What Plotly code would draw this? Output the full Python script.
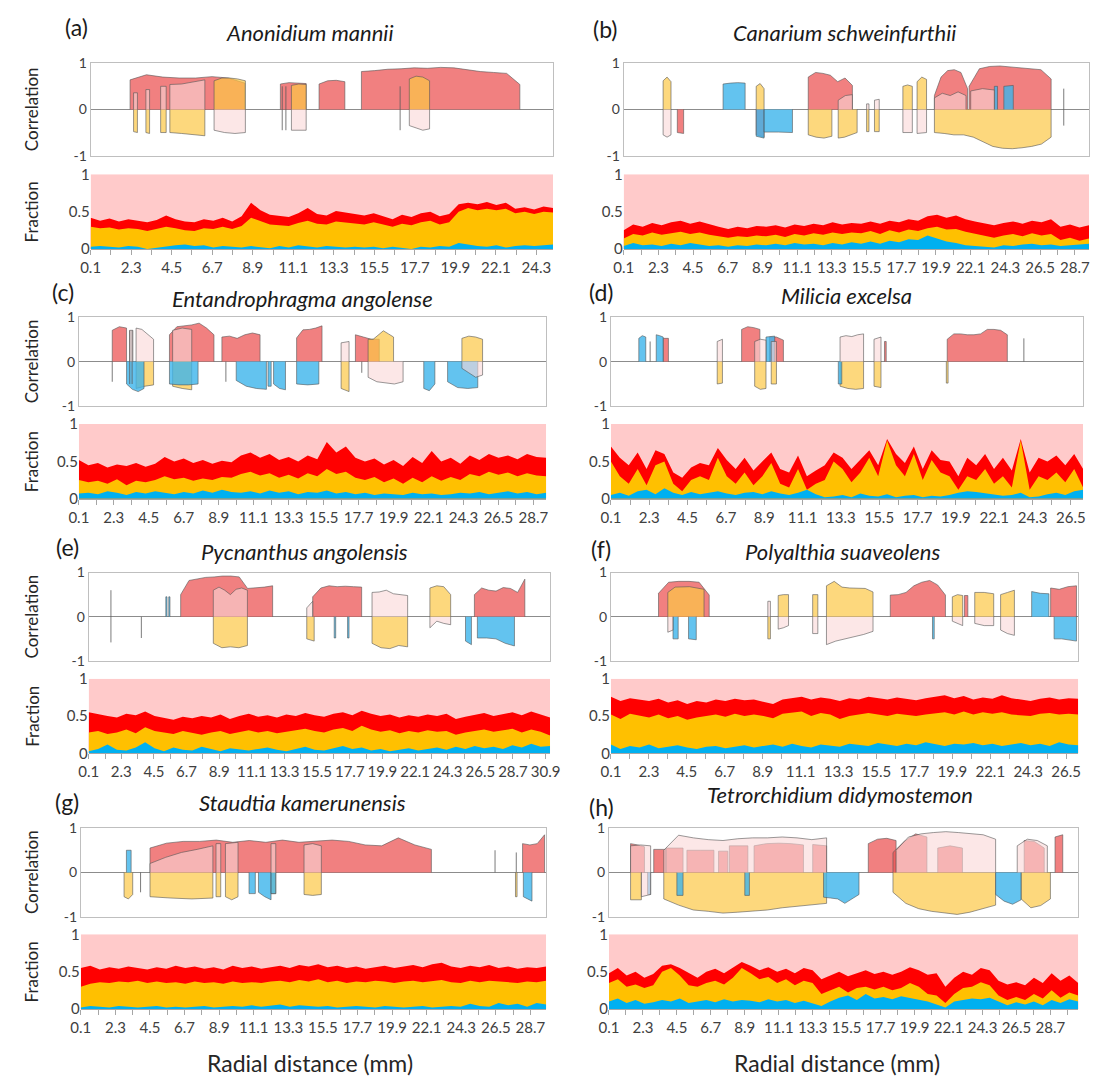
import numpy as np
import plotly.graph_objects as go

W, H = 1107, 1086          # target picture size
PAGE_MARGIN = 8            # default body margin of the html page
FIG_W, FIG_H = W - 2 * PAGE_MARGIN, H - 2 * PAGE_MARGIN
FONT = "Lato, 'Open Sans', sans-serif"

# ---------------- data ----------------
PANEL_KEYS = ["a", "b", "c", "d", "e", "f", "g", "h"]
PANEL_LABELS = ["(a)", "(b)", "(c)", "(d)", "(e)", "(f)", "(g)", "(h)"]
SPECIES = ["Anonidium mannii", "Canarium schweinfurthii", "Entandrophragma angolense",
           "Milicia excelsa", "Pycnanthus angolensis", "Polyalthia suaveolens",
           "Staudtia kamerunensis", "Tetrorchidium didymostemon"]
X_END = [25.2, 29.6, 29.5, 27.2, 31.2, 27.2, 29.7, 30.5]   # last radial distance (mm)
X_START = 0.1
TICK_STEP = 1.1

# Fraction panels: cumulative tops (blue, blue+gold, blue+gold+red)
BLUE_A = [0.03,0.04,0.03,0.02,0.04,0.03,0.00,0.02,0.04,0.05,0.06,0.04,0.05,0.02,0.04,0.03,0.02,0.04,0.03,0.01,0.04,0.02,0.05,0.03,0.02,0.04,0.03,0.02,0.03,0.02,0.03,0.01,0.03,0.02,0.00,0.03,0.02,0.04,0.03,0.08,0.06,0.04,0.03,0.05,0.02,0.04,0.05,0.04,0.05,0.06]
GOLD_A = [0.30,0.28,0.29,0.26,0.28,0.27,0.24,0.27,0.30,0.28,0.25,0.24,0.28,0.27,0.30,0.27,0.31,0.42,0.38,0.33,0.32,0.31,0.35,0.38,0.34,0.33,0.37,0.36,0.35,0.33,0.36,0.33,0.30,0.34,0.32,0.36,0.38,0.33,0.36,0.50,0.55,0.52,0.54,0.52,0.54,0.48,0.50,0.47,0.50,0.49]
RED_A = [0.42,0.38,0.41,0.37,0.40,0.38,0.36,0.39,0.45,0.40,0.37,0.36,0.40,0.38,0.42,0.37,0.44,0.62,0.52,0.46,0.44,0.43,0.48,0.55,0.47,0.45,0.51,0.49,0.47,0.45,0.48,0.44,0.40,0.46,0.43,0.48,0.50,0.44,0.47,0.60,0.62,0.60,0.63,0.59,0.62,0.54,0.56,0.53,0.57,0.55]

BLUE_B = [0.04,0.08,0.05,0.06,0.04,0.07,0.05,0.08,0.06,0.04,0.05,0.03,0.05,0.04,0.06,0.05,0.07,0.05,0.08,0.06,0.07,0.05,0.08,0.06,0.09,0.07,0.10,0.07,0.11,0.09,0.13,0.12,0.18,0.14,0.10,0.08,0.05,0.04,0.03,0.02,0.05,0.04,0.06,0.07,0.05,0.06,0.04,0.05,0.06,0.07]
GOLD_B = [0.14,0.20,0.18,0.22,0.19,0.21,0.23,0.20,0.22,0.19,0.17,0.15,0.17,0.16,0.18,0.17,0.19,0.16,0.20,0.18,0.21,0.19,0.22,0.20,0.22,0.21,0.24,0.20,0.25,0.22,0.26,0.24,0.28,0.30,0.26,0.27,0.23,0.20,0.17,0.15,0.18,0.20,0.17,0.21,0.18,0.20,0.12,0.15,0.11,0.14]
RED_B = [0.25,0.33,0.30,0.35,0.32,0.36,0.38,0.34,0.37,0.33,0.30,0.27,0.30,0.28,0.31,0.30,0.32,0.29,0.33,0.31,0.34,0.32,0.36,0.33,0.35,0.34,0.37,0.34,0.38,0.36,0.40,0.38,0.44,0.46,0.42,0.45,0.40,0.37,0.34,0.32,0.35,0.37,0.34,0.38,0.36,0.40,0.30,0.33,0.29,0.32]

BLUE_C = [0.07,0.08,0.06,0.10,0.08,0.05,0.09,0.07,0.10,0.08,0.06,0.09,0.07,0.11,0.08,0.12,0.09,0.08,0.10,0.07,0.11,0.08,0.10,0.06,0.09,0.08,0.11,0.07,0.09,0.06,0.08,0.05,0.07,0.06,0.05,0.08,0.06,0.07,0.05,0.06,0.08,0.07,0.09,0.06,0.08,0.10,0.07,0.09,0.06,0.08]
GOLD_C = [0.25,0.22,0.24,0.20,0.26,0.18,0.24,0.22,0.25,0.30,0.26,0.28,0.24,0.27,0.25,0.29,0.28,0.33,0.36,0.31,0.34,0.28,0.32,0.27,0.34,0.30,0.40,0.33,0.36,0.28,0.25,0.29,0.22,0.27,0.20,0.28,0.22,0.30,0.24,0.29,0.25,0.33,0.30,0.36,0.32,0.35,0.30,0.34,0.31,0.30]
RED_C = [0.52,0.45,0.48,0.42,0.46,0.44,0.48,0.43,0.47,0.56,0.50,0.54,0.48,0.52,0.47,0.51,0.49,0.58,0.62,0.55,0.60,0.52,0.56,0.50,0.58,0.53,0.76,0.62,0.70,0.55,0.50,0.54,0.46,0.52,0.44,0.56,0.48,0.64,0.50,0.55,0.47,0.58,0.52,0.60,0.55,0.58,0.53,0.60,0.56,0.55]

BLUE_D = [0.05,0.08,0.04,0.10,0.12,0.06,0.14,0.08,0.05,0.09,0.06,0.08,0.10,0.07,0.05,0.08,0.09,0.06,0.10,0.07,0.05,0.08,0.12,0.06,0.02,0.03,0.05,0.02,0.07,0.04,0.03,0.06,0.02,0.04,0.05,0.02,0.04,0.03,0.05,0.08,0.10,0.09,0.07,0.06,0.04,0.05,0.08,0.02,0.03,0.06,0.08,0.05,0.10,0.12]
GOLD_D = [0.50,0.30,0.20,0.40,0.18,0.45,0.50,0.20,0.10,0.25,0.30,0.25,0.55,0.30,0.20,0.35,0.18,0.30,0.48,0.20,0.15,0.40,0.12,0.20,0.25,0.50,0.40,0.22,0.35,0.55,0.30,0.78,0.45,0.30,0.60,0.25,0.52,0.35,0.30,0.12,0.30,0.25,0.40,0.20,0.30,0.15,0.78,0.12,0.30,0.25,0.35,0.22,0.40,0.15]
RED_D = [0.70,0.55,0.45,0.62,0.40,0.65,0.60,0.35,0.28,0.42,0.48,0.45,0.68,0.52,0.40,0.55,0.38,0.50,0.62,0.40,0.35,0.58,0.30,0.38,0.45,0.62,0.55,0.40,0.52,0.65,0.45,0.80,0.60,0.48,0.70,0.40,0.65,0.52,0.50,0.30,0.55,0.45,0.60,0.40,0.55,0.38,0.80,0.35,0.55,0.50,0.58,0.45,0.60,0.40]

BLUE_E = [0.03,0.06,0.12,0.05,0.04,0.08,0.15,0.07,0.03,0.08,0.05,0.04,0.09,0.06,0.03,0.07,0.05,0.04,0.06,0.08,0.05,0.03,0.06,0.09,0.05,0.04,0.07,0.10,0.06,0.08,0.04,0.06,0.03,0.05,0.07,0.04,0.06,0.08,0.05,0.09,0.06,0.10,0.07,0.09,0.06,0.11,0.08,0.13,0.09,0.10]
GOLD_E = [0.28,0.30,0.26,0.28,0.32,0.27,0.35,0.30,0.28,0.26,0.30,0.27,0.25,0.28,0.30,0.26,0.29,0.31,0.28,0.30,0.27,0.29,0.31,0.33,0.30,0.28,0.32,0.34,0.30,0.37,0.32,0.29,0.31,0.27,0.30,0.28,0.31,0.29,0.30,0.25,0.28,0.30,0.32,0.29,0.31,0.33,0.28,0.32,0.29,0.24]
RED_E = [0.55,0.52,0.50,0.48,0.53,0.51,0.56,0.50,0.47,0.45,0.49,0.47,0.50,0.48,0.52,0.46,0.50,0.53,0.49,0.51,0.48,0.52,0.50,0.54,0.51,0.49,0.53,0.55,0.51,0.57,0.53,0.50,0.52,0.48,0.51,0.49,0.52,0.50,0.53,0.46,0.49,0.51,0.54,0.50,0.52,0.55,0.51,0.56,0.52,0.48]

BLUE_F = [0.12,0.06,0.10,0.08,0.12,0.07,0.09,0.11,0.08,0.06,0.09,0.10,0.07,0.09,0.11,0.08,0.10,0.12,0.09,0.13,0.10,0.08,0.12,0.10,0.09,0.13,0.11,0.10,0.14,0.12,0.10,0.13,0.11,0.15,0.12,0.10,0.13,0.12,0.14,0.11,0.13,0.10,0.12,0.14,0.11,0.13,0.10,0.15,0.12,0.11]
GOLD_F = [0.52,0.46,0.53,0.50,0.48,0.52,0.47,0.50,0.45,0.48,0.50,0.52,0.49,0.53,0.50,0.52,0.50,0.47,0.53,0.55,0.56,0.50,0.54,0.52,0.46,0.50,0.52,0.54,0.52,0.50,0.53,0.51,0.50,0.52,0.54,0.55,0.52,0.56,0.52,0.55,0.53,0.55,0.52,0.51,0.50,0.53,0.54,0.52,0.53,0.52]
RED_F = [0.76,0.70,0.74,0.72,0.70,0.73,0.68,0.71,0.66,0.70,0.68,0.72,0.70,0.73,0.71,0.72,0.69,0.66,0.72,0.74,0.76,0.72,0.75,0.73,0.70,0.74,0.72,0.76,0.74,0.72,0.75,0.73,0.71,0.74,0.76,0.78,0.74,0.77,0.72,0.75,0.73,0.78,0.74,0.72,0.70,0.73,0.75,0.72,0.74,0.73]

BLUE_G = [0.02,0.04,0.03,0.02,0.04,0.03,0.02,0.03,0.04,0.02,0.03,0.02,0.03,0.04,0.02,0.03,0.04,0.03,0.05,0.03,0.04,0.06,0.03,0.05,0.04,0.03,0.04,0.02,0.03,0.04,0.03,0.02,0.04,0.03,0.02,0.03,0.04,0.02,0.03,0.04,0.03,0.07,0.04,0.03,0.08,0.05,0.07,0.03,0.08,0.06]
GOLD_G = [0.30,0.34,0.36,0.35,0.37,0.36,0.38,0.35,0.37,0.35,0.36,0.34,0.37,0.35,0.36,0.34,0.37,0.35,0.36,0.35,0.37,0.38,0.36,0.39,0.37,0.40,0.36,0.38,0.35,0.37,0.36,0.38,0.37,0.35,0.37,0.38,0.36,0.37,0.39,0.36,0.35,0.38,0.36,0.38,0.37,0.36,0.35,0.37,0.36,0.38]
RED_G = [0.55,0.58,0.53,0.56,0.54,0.57,0.55,0.53,0.56,0.54,0.58,0.55,0.57,0.54,0.56,0.53,0.58,0.55,0.57,0.54,0.56,0.58,0.55,0.59,0.57,0.60,0.56,0.58,0.55,0.57,0.54,0.56,0.58,0.55,0.57,0.59,0.56,0.60,0.62,0.57,0.55,0.58,0.56,0.59,0.55,0.57,0.54,0.56,0.55,0.57]

BLUE_H = [0.10,0.14,0.08,0.12,0.07,0.09,0.12,0.10,0.14,0.08,0.10,0.12,0.09,0.13,0.10,0.12,0.11,0.09,0.13,0.10,0.12,0.08,0.11,0.07,0.04,0.10,0.15,0.18,0.12,0.20,0.14,0.16,0.13,0.17,0.15,0.12,0.10,0.06,0.02,0.10,0.12,0.14,0.13,0.15,0.10,0.05,0.09,0.06,0.10,0.05,0.12,0.08,0.13,0.10]
GOLD_H = [0.35,0.40,0.30,0.33,0.28,0.32,0.50,0.55,0.45,0.32,0.30,0.35,0.38,0.33,0.42,0.55,0.48,0.40,0.43,0.35,0.40,0.32,0.38,0.35,0.20,0.25,0.30,0.22,0.28,0.30,0.26,0.30,0.25,0.28,0.35,0.30,0.20,0.18,0.08,0.20,0.28,0.30,0.36,0.32,0.18,0.12,0.16,0.12,0.20,0.14,0.25,0.15,0.22,0.18]
RED_H = [0.48,0.55,0.45,0.50,0.42,0.47,0.58,0.60,0.55,0.48,0.42,0.50,0.54,0.48,0.56,0.63,0.58,0.52,0.56,0.50,0.54,0.48,0.55,0.52,0.40,0.45,0.50,0.44,0.48,0.52,0.47,0.50,0.46,0.50,0.56,0.52,0.46,0.48,0.30,0.42,0.50,0.46,0.55,0.52,0.38,0.33,0.36,0.32,0.42,0.35,0.48,0.38,0.45,0.35]

# Correlation segments: (series, start mm, end mm, correlation values along the segment)
BLOCKS_A = [
    ("red", 2.24, 8.47, [0.64, 0.75, 0.70, 0.68, 0.68, 0.71, 0.68, 0.57]),
    ("red", 10.4, 11.8, [0.55, 0.58, 0.57, 0.56]),
    ("red", 12.5, 13.9, [0.55, 0.62, 0.63, 0.60]),
    ("red", 14.8, 23.4, [0.82, 0.84, 0.87, 0.88, 0.90, 0.89, 0.91, 0.90, 0.86, 0.82, 0.80, 0.78, 0.54]),
    ("yellow", 2.43, 2.64, [-0.48, -0.50]),
    ("yellow", 3.1, 3.3, [-0.50, -0.52]),
    ("yellow", 3.9, 4.2, [-0.50, -0.50]),
    ("yellow", 4.4, 6.3, [-0.50, -0.52, -0.55, -0.57]),
    ("yellow", 6.8, 8.5, [0.62, 0.68, 0.68, 0.66, 0.62]),
    ("yellow", 11.0, 11.8, [0.52, 0.55, 0.54]),
    ("yellow", 17.4, 18.5, [0.66, 0.72, 0.70, 0.62]),
    ("pink", 2.43, 2.64, [0.36, 0.36]),
    ("pink", 3.1, 3.3, [0.43, 0.43]),
    ("pink", 3.9, 4.2, [0.50, 0.50]),
    ("pink", 4.4, 6.3, [0.54, 0.55, 0.60, 0.64]),
    ("pink", 6.8, 8.5, [-0.45, -0.50, -0.52, -0.50]),
    ("pink", 11.0, 11.8, [-0.45, -0.45]),
    ("pink", 17.4, 18.5, [-0.35, -0.40, -0.45, -0.42]),
    ("line", 10.5, 10.5, [0.50, -0.45]),
    ("line", 10.7, 10.7, [0.50, -0.45]),
    ("line", 16.9, 16.9, [0.50, -0.45]),
]
BLOCKS_B = [
    ("red", 3.5, 3.9, [-0.50, -0.52]),
    ("red", 8.5, 9.0, [-0.55, -0.60]),
    ("red", 11.8, 14.6, [0.70, 0.80, 0.78, 0.74, 0.60, 0.68, 0.52]),
    ("red", 19.8, 21.9, [0.30, 0.70, 0.84, 0.86, 0.80, 0.45]),
    ("red", 22.0, 27.2, [0.50, 0.88, 0.93, 0.94, 0.92, 0.90, 0.88, 0.86, 0.66]),
    ("yellow", 2.6, 3.1, [0.62, 0.70, 0.60]),
    ("yellow", 8.5, 9.0, [0.50, 0.56, 0.45]),
    ("yellow", 11.8, 13.3, [-0.55, -0.60, -0.62, -0.58]),
    ("yellow", 13.7, 14.9, [-0.62, -0.60, -0.55, -0.50]),
    ("yellow", 15.5, 15.65, [-0.48, -0.48]),
    ("yellow", 16.0, 16.3, [-0.48, -0.48]),
    ("yellow", 17.8, 18.4, [0.50, 0.53, 0.50]),
    ("yellow", 18.7, 19.3, [0.60, 0.70, 0.65]),
    ("yellow", 19.8, 27.2, [-0.50, -0.52, -0.55, -0.55, -0.60, -0.70, -0.80, -0.84, -0.85, -0.83, -0.80, -0.75, -0.60]),
    ("blue", 6.4, 7.8, [0.55, 0.57, 0.58, 0.57]),
    ("blue", 8.5, 9.0, [-0.58, -0.62]),
    ("blue", 9.0, 10.8, [-0.49, -0.49, -0.50]),
    ("blue", 23.6, 23.8, [0.50, 0.50]),
    ("blue", 24.2, 24.8, [0.50, 0.52]),
    ("pink", 2.6, 3.1, [-0.55, -0.60, -0.55]),
    ("pink", 13.7, 14.6, [0.20, 0.30, 0.32]),
    ("pink", 15.5, 15.65, [0.12, 0.12]),
    ("pink", 16.0, 16.3, [0.20, 0.22]),
    ("pink", 17.8, 18.4, [-0.50, -0.50]),
    ("pink", 18.7, 19.3, [-0.52, -0.50]),
    ("pink", 19.8, 21.8, [0.25, 0.35, 0.30, 0.38, 0.30]),
    ("pink", 22.1, 23.6, [0.40, 0.45, 0.42]),
    ("line", 28.0, 28.0, [0.45, -0.35]),
]
BLOCKS_C = [
    ("red", 2.2, 3.1, [0.70, 0.78, 0.75]),
    ("red", 5.8, 8.6, [0.60, 0.78, 0.80, 0.82, 0.86, 0.75, 0.60]),
    ("red", 9.1, 11.5, [0.55, 0.57, 0.52, 0.60, 0.64, 0.60]),
    ("red", 13.8, 15.4, [0.53, 0.71, 0.72, 0.75, 0.80]),
    ("red", 17.5, 19.0, [0.60, 0.55, 0.50, 0.50]),
    ("blue", 3.1, 4.2, [-0.50, -0.62, -0.67, -0.60]),
    ("blue", 5.8, 7.6, [-0.50, -0.52, -0.52, -0.50]),
    ("blue", 10.0, 11.9, [-0.42, -0.55, -0.60, -0.62]),
    ("blue", 12.0, 12.2, [-0.55, -0.55]),
    ("blue", 12.35, 13.1, [-0.50, -0.60, -0.63]),
    ("blue", 13.8, 15.2, [-0.50, -0.52, -0.50]),
    ("blue", 21.8, 22.5, [-0.60, -0.65, -0.50]),
    ("blue", 23.3, 25.2, [-0.45, -0.58, -0.60, -0.58]),
    ("yellow", 3.7, 4.8, [-0.60, -0.55, -0.52]),
    ("yellow", 6.0, 7.2, [-0.55, -0.60, -0.63]),
    ("yellow", 16.6, 17.1, [-0.60, -0.67]),
    ("yellow", 18.3, 19.9, [0.50, 0.50, 0.60, 0.69, 0.62, 0.55]),
    ("yellow", 24.2, 25.5, [0.52, 0.57, 0.55, 0.50]),
    ("pink", 3.3, 3.5, [0.70, 0.70]),
    ("pink", 3.7, 4.8, [0.75, 0.72, 0.60, 0.50]),
    ("pink", 6.0, 7.2, [0.70, 0.75, 0.72]),
    ("pink", 16.6, 17.1, [0.42, 0.45]),
    ("pink", 18.3, 20.5, [-0.35, -0.45, -0.48, -0.50, -0.45]),
    ("pink", 24.2, 25.5, [-0.15, -0.25, -0.35, -0.30]),
    ("line", 2.2, 2.2, [0.0, -0.45]),
    ("line", 3.3, 3.3, [0.70, -0.50]),
    ("line", 3.45, 3.45, [0.70, -0.50]),
    ("line", 9.35, 9.35, [0.0, -0.45]),
    ("line", 17.9, 17.9, [0.0, -0.25]),
]
BLOCKS_D = [
    ("blue", 1.7, 2.1, [0.52, 0.58, 0.55]),
    ("blue", 2.7, 3.1, [0.60, 0.58, 0.55]),
    ("red", 3.1, 3.4, [0.52, 0.52]),
    ("line", 2.35, 2.35, [0.45, 0.0]),
    ("pink", 6.2, 6.5, [0.45, 0.50]),
    ("yellow", 6.2, 6.5, [-0.50, -0.48]),
    ("red", 7.6, 8.65, [0.72, 0.78, 0.76, 0.72]),
    ("red", 9.2, 10.0, [0.55, 0.55, 0.48]),
    ("blue", 9.0, 9.5, [0.55, 0.57]),
    ("pink", 8.35, 9.0, [0.45, 0.50, 0.48]),
    ("yellow", 8.35, 9.0, [-0.55, -0.62, -0.60]),
    ("pink", 9.3, 9.6, [0.45, 0.45]),
    ("yellow", 9.3, 9.6, [-0.50, -0.50]),
    ("blue", 13.15, 13.35, [-0.50, -0.50]),
    ("pink", 13.25, 14.6, [0.55, 0.58, 0.56, 0.60, 0.62]),
    ("yellow", 13.25, 14.6, [-0.55, -0.60, -0.62, -0.60]),
    ("pink", 15.2, 15.6, [0.50, 0.55]),
    ("yellow", 15.2, 15.6, [-0.55, -0.58]),
    ("red", 15.8, 15.9, [0.45, 0.45]),
    ("yellow", 19.35, 19.45, [-0.48, -0.48]),
    ("red", 19.4, 22.85, [0.50, 0.62, 0.62, 0.60, 0.60, 0.62, 0.72, 0.72, 0.70, 0.60]),
    ("line", 23.8, 23.8, [0.52, 0.0]),
]
BLOCKS_E = [
    ("line", 1.6, 1.6, [0.60, -0.58]),
    ("line", 3.65, 3.65, [0.0, -0.48]),
    ("blue", 5.3, 5.38, [0.45, 0.45]),
    ("blue", 5.5, 5.58, [0.45, 0.45]),
    ("red", 6.3, 12.5, [0.50, 0.82, 0.86, 0.89, 0.90, 0.92, 0.92, 0.90, 0.64, 0.65, 0.67, 0.70]),
    ("pink", 8.5, 10.8, [0.60, 0.67, 0.60, 0.50, 0.62, 0.65, 0.60]),
    ("yellow", 8.5, 10.8, [-0.60, -0.70, -0.68, -0.70, -0.65]),
    ("yellow", 14.8, 15.3, [-0.50, -0.55]),
    ("pink", 14.8, 15.2, [0.20, 0.35]),
    ("red", 15.2, 18.5, [0.45, 0.65, 0.70, 0.68, 0.69, 0.68, 0.67]),
    ("blue", 16.65, 16.75, [-0.48, -0.48]),
    ("blue", 17.55, 17.65, [-0.48, -0.48]),
    ("pink", 19.2, 21.6, [0.55, 0.56, 0.60, 0.52, 0.50, 0.48]),
    ("yellow", 19.2, 21.6, [-0.60, -0.70, -0.72, -0.65, -0.68]),
    ("yellow", 23.1, 24.5, [0.65, 0.70, 0.68, 0.50]),
    ("pink", 23.1, 24.5, [-0.25, -0.10, -0.15, -0.18]),
    ("blue", 25.5, 25.9, [-0.55, -0.63]),
    ("red", 26.1, 29.5, [0.50, 0.65, 0.60, 0.58, 0.66, 0.64, 0.55, 0.85]),
    ("blue", 26.3, 28.8, [-0.48, -0.48, -0.50, -0.60, -0.66]),
]
BLOCKS_F = [
    ("red", 2.86, 5.8, [0.53, 0.78, 0.80, 0.80, 0.78, 0.49]),
    ("yellow", 3.4, 5.5, [0.55, 0.67, 0.67, 0.68, 0.65, 0.62]),
    ("pink", 3.4, 3.7, [-0.35, -0.30]),
    ("blue", 3.7, 4.0, [-0.50, -0.50]),
    ("blue", 4.6, 5.05, [-0.50, -0.52]),
    ("yellow", 9.2, 9.35, [-0.50, -0.50]),
    ("pink", 9.2, 9.35, [0.35, 0.35]),
    ("yellow", 9.8, 10.4, [0.48, 0.50, 0.50]),
    ("pink", 9.8, 10.4, [-0.28, -0.25, -0.20]),
    ("yellow", 11.8, 12.1, [0.50, 0.50]),
    ("pink", 11.8, 12.1, [-0.38, -0.38]),
    ("yellow", 12.6, 15.3, [0.70, 0.80, 0.67, 0.65, 0.64, 0.64, 0.56]),
    ("pink", 12.6, 15.3, [-0.63, -0.55, -0.50, -0.45, -0.40, -0.33]),
    ("red", 16.3, 19.5, [0.49, 0.50, 0.55, 0.70, 0.78, 0.82, 0.72, 0.49]),
    ("blue", 18.75, 18.85, [-0.50, -0.50]),
    ("yellow", 19.9, 20.5, [0.45, 0.50, 0.48]),
    ("pink", 19.9, 20.5, [-0.10, -0.20]),
    ("red", 20.6, 20.8, [0.48, 0.48]),
    ("yellow", 21.2, 22.3, [0.55, 0.55, 0.52]),
    ("pink", 21.2, 22.3, [-0.15, -0.20, -0.20]),
    ("yellow", 22.7, 23.5, [0.50, 0.55, 0.60]),
    ("pink", 22.7, 23.5, [-0.30, -0.38, -0.42]),
    ("blue", 24.5, 25.5, [0.57, 0.53, 0.52]),
    ("red", 25.6, 27.1, [0.65, 0.62, 0.68, 0.70]),
    ("blue", 25.8, 27.1, [-0.50, -0.50, -0.52, -0.55]),
]
BLOCKS_G = [
    ("blue", 3.0, 3.3, [0.50, 0.50]),
    ("yellow", 2.85, 3.4, [-0.55, -0.60, -0.50]),
    ("line", 3.9, 3.9, [0.0, -0.45]),
    ("red", 4.5, 22.4, [0.55, 0.66, 0.70, 0.70, 0.73, 0.68, 0.72, 0.68, 0.73, 0.68, 0.70, 0.73, 0.70, 0.62, 0.60, 0.78, 0.62, 0.52]),
    ("pink", 4.5, 8.5, [0.20, 0.34, 0.45, 0.52, 0.60]),
    ("yellow", 4.5, 8.5, [-0.55, -0.58, -0.60, -0.58]),
    ("pink", 8.7, 9.0, [0.65, 0.65]),
    ("yellow", 8.7, 9.0, [-0.55, -0.55]),
    ("pink", 9.3, 10.1, [0.65, 0.68]),
    ("yellow", 9.3, 10.1, [-0.55, -0.62, -0.55]),
    ("blue", 10.8, 11.2, [-0.48, -0.48]),
    ("blue", 11.4, 12.2, [-0.45, -0.55, -0.62]),
    ("pink", 12.2, 12.5, [0.65, 0.65]),
    ("yellow", 12.2, 12.5, [-0.48, -0.48]),
    ("blue", 12.2, 12.5, [-0.48, -0.48]),
    ("pink", 14.3, 15.4, [0.62, 0.65, 0.60]),
    ("yellow", 14.3, 15.4, [-0.50, -0.52, -0.50]),
    ("line", 26.45, 26.45, [0.50, 0.0]),
    ("yellow", 27.75, 27.85, [-0.55, -0.55]),
    ("line", 27.8, 27.8, [0.45, 0.0]),
    ("red", 28.2, 29.6, [0.65, 0.62, 0.65, 0.85]),
    ("blue", 28.25, 28.8, [-0.55, -0.60, -0.65]),
]
BLOCKS_H = [
    ("red", 1.5, 2.4, [0.65, 0.62, 0.58]),
    ("pink", 1.5, 2.8, [0.60, 0.62, 0.60]),
    ("yellow", 1.5, 2.2, [-0.62, -0.62]),
    ("pink", 2.2, 2.8, [-0.55, -0.50]),
    ("blue", 2.6, 2.8, [-0.50, -0.50]),
    ("red", 3.0, 3.8, [0.52, 0.52]),
    ("red", 3.8, 4.9, [0.55, 0.55]),
    ("red", 5.15, 6.9, [0.50, 0.50, 0.50]),
    ("red", 7.2, 7.8, [0.48, 0.48]),
    ("red", 7.9, 9.1, [0.60, 0.60]),
    ("red", 9.5, 12.7, [0.60, 0.65, 0.66, 0.65, 0.62]),
    ("red", 13.3, 14.2, [0.63, 0.60]),
    ("pink", 3.65, 14.2, [0.50, 0.84, 0.78, 0.74, 0.72, 0.76, 0.78, 0.78, 0.80, 0.78, 0.74, 0.78]),
    ("yellow", 3.65, 14.2, [-0.60, -0.74, -0.85, -0.88, -0.92, -0.90, -0.88, -0.85, -0.80, -0.77, -0.74, -0.70]),
    ("blue", 4.5, 4.9, [-0.52, -0.52]),
    ("blue", 8.9, 9.2, [-0.52, -0.52]),
    ("blue", 14.0, 16.3, [-0.56, -0.58, -0.60, -0.70, -0.60, -0.50]),
    ("red", 16.9, 18.7, [0.65, 0.75, 0.77, 0.72]),
    ("red", 18.5, 20.7, [0.45, 0.70, 0.87, 0.80]),
    ("red", 21.4, 23.0, [0.55, 0.60, 0.55]),
    ("pink", 18.7, 25.15, [0.50, 0.80, 0.87, 0.90, 0.92, 0.90, 0.88, 0.85, 0.75]),
    ("yellow", 18.5, 25.15, [-0.45, -0.70, -0.82, -0.88, -0.92, -0.95, -0.90, -0.82, -0.74]),
    ("blue", 25.15, 26.8, [-0.50, -0.65, -0.72, -0.62]),
    ("pink", 26.55, 28.5, [0.60, 0.75, 0.72, 0.60]),
    ("red", 27.0, 28.3, [0.72, 0.70, 0.55]),
    ("red", 29.0, 29.5, [0.80, 0.85]),
    ("yellow", 26.8, 28.7, [-0.60, -0.80, -0.75, -0.60]),
]

FRACTIONS = [(BLUE_A, GOLD_A, RED_A), (BLUE_B, GOLD_B, RED_B), (BLUE_C, GOLD_C, RED_C),
             (BLUE_D, GOLD_D, RED_D), (BLUE_E, GOLD_E, RED_E), (BLUE_F, GOLD_F, RED_F),
             (BLUE_G, GOLD_G, RED_G), (BLUE_H, GOLD_H, RED_H)]
BLOCKS = [BLOCKS_A, BLOCKS_B, BLOCKS_C, BLOCKS_D, BLOCKS_E, BLOCKS_F, BLOCKS_G, BLOCKS_H]

# ---------------- styling / layout ----------------
SERIES_FILL = {
    "red": "rgba(236,86,86,0.75)",
    "yellow": "rgba(252,200,70,0.70)",
    "blue": "rgba(60,180,235,0.80)",
    "pink": "rgba(250,215,215,0.60)",
}
SERIES_ORDER = ["red", "yellow", "blue", "pink", "line"]
OUTLINE = "rgba(85,85,85,0.75)"

# pixel boxes in the target picture: (x0, x1) per panel, rows (corr y0,y1, frac y0,y1)
PANEL_X = [(82, 553), (625, 1107), (70, 546), (612, 1093), (80, 550), (612, 1088), (72, 546), (610, 1088)]
ROW_Y = [(54, 148, 167, 243), (312, 403, 421, 497), (572, 662, 680, 756), (832, 922, 940, 1016)]
LABEL_POS = [(68, 17), (606, 19), (54, 287), (602, 287), (58, 546), (602, 548), (58, 805), (602, 811)]
TITLE_POS = [(305, 23), (850, 23), (298, 293), (852, 290), (300, 551), (848, 551), (298, 806), (845, 798)]


def px(x):
    return (x - PAGE_MARGIN) / FIG_W


def py(y):
    return 1 - (y - PAGE_MARGIN) / FIG_H


fig = go.Figure()
layout = dict(width=FIG_W, height=FIG_H, margin=dict(l=0, r=0, t=0, b=0),
              paper_bgcolor="white", plot_bgcolor="white", showlegend=False,
              font=dict(family=FONT, color="#404040"))
annotations = []

for i, key in enumerate(PANEL_KEYS):
    row = i // 2
    cy0, cy1, fy0, fy1 = ROW_Y[row]
    x0, x1 = PANEL_X[i]
    xr = [X_START, X_END[i]]
    ca, fa = 2 * i + 1, 2 * i + 2  # axis numbers
    d0, d1 = max(0.0, px(x0)), min(1.0, px(x1))
    # correlation axes
    layout[f"xaxis{ca}"] = dict(domain=[d0, d1], range=xr, anchor=f"y{ca}",
                                showticklabels=False, ticks="", showgrid=False, zeroline=False,
                                showline=True, mirror=True, linecolor="#BFBFBF", linewidth=1)
    layout[f"yaxis{ca}"] = dict(domain=[py(cy1), py(cy0)], range=[-1, 1], anchor=f"x{ca}",
                                tickvals=[-1, 0, 1], ticktext=["-1", "0", "1"],
                                tickfont=dict(size=14, color="#404040"), ticks="", showgrid=False,
                                zeroline=True, zerolinecolor="#8C8C8C", zerolinewidth=1,
                                showline=True, mirror=True, linecolor="#BFBFBF", linewidth=1)
    # fraction axes
    tv = list(np.arange(X_START, X_END[i] + 1e-9, TICK_STEP))
    tt = [f"{v:.1f}" if k % 2 == 0 else "" for k, v in enumerate(tv)]
    layout[f"xaxis{fa}"] = dict(domain=[d0, d1], range=xr, anchor=f"y{fa}",
                                tickvals=tv, ticktext=tt, ticks="outside", ticklen=5,
                                tickcolor="#A6A6A6", tickfont=dict(size=15, color="#404040"),
                                showgrid=False, zeroline=False, showline=True,
                                linecolor="#A6A6A6", linewidth=1)
    layout[f"yaxis{fa}"] = dict(domain=[py(fy1), py(fy0)], range=[0, 1], anchor=f"x{fa}",
                                tickvals=[0, 0.5, 1], ticktext=["0", "0.5", "1"],
                                tickfont=dict(size=15, color="#404040"), ticks="",
                                showgrid=False, zeroline=False, showline=False)

    # ----- fraction stack -----
    blue, gold, red = FRACTIONS[i]
    n = min(len(blue), len(gold), len(red))
    xs = np.linspace(X_START, X_END[i], n)
    total = [1.0] * n
    for ys, col in [(total, "#FFCACA"), (red[:n], "#FF0000"), (gold[:n], "#FFC000"), (blue[:n], "#00B0F0")]:
        fig.add_trace(go.Scatter(x=xs, y=ys, mode="lines", line=dict(width=0, color=col),
                                 fill="tozeroy", fillcolor=col, xaxis=f"x{fa}", yaxis=f"y{fa}",
                                 hoverinfo="skip"))

    # ----- correlation blocks -----
    for series in SERIES_ORDER:
        for s, a, b, vals in BLOCKS[i]:
            if s != series:
                continue
            if s == "line":
                fig.add_trace(go.Scatter(x=[a, b], y=[vals[0], vals[-1]], mode="lines",
                                         line=dict(width=1, color="rgba(90,90,90,0.8)"),
                                         xaxis=f"x{ca}", yaxis=f"y{ca}", hoverinfo="skip"))
                continue
            bx = [a] + list(np.linspace(a, b, len(vals))) + [b]
            by = [0] + list(vals) + [0]
            fig.add_trace(go.Scatter(x=bx, y=by, mode="lines", fill="toself",
                                     fillcolor=SERIES_FILL[s],
                                     line=dict(width=0.8, color=OUTLINE, shape="linear"),
                                     xaxis=f"x{ca}", yaxis=f"y{ca}", hoverinfo="skip"))

    # labels
    lx, ly = LABEL_POS[i]
    annotations.append(dict(x=px(lx), y=py(ly), xref="paper", yref="paper", text=PANEL_LABELS[i],
                            showarrow=False, font=dict(size=23, color="#1a1a1a"),
                            xanchor="center", yanchor="middle"))
    tx, ty = TITLE_POS[i]
    annotations.append(dict(x=px(tx), y=py(ty), xref="paper", yref="paper",
                            text=f"<i>{SPECIES[i]}</i>", showarrow=False,
                            font=dict(size=22, color="#1a1a1a"), xanchor="center", yanchor="middle"))
    if i % 2 == 0:
        annotations.append(dict(x=px(22), y=py((cy0 + cy1) / 2), xref="paper", yref="paper",
                                text="Correlation", textangle=-90, showarrow=False,
                                font=dict(size=17, color="#262626"), xanchor="center", yanchor="middle"))
        annotations.append(dict(x=px(22), y=py((fy0 + fy1) / 2), xref="paper", yref="paper",
                                text="Fraction", textangle=-90, showarrow=False,
                                font=dict(size=17, color="#262626"), xanchor="center", yanchor="middle"))

for cx in (305, 842):
    annotations.append(dict(x=px(cx), y=py(1071), xref="paper", yref="paper",
                            text="Radial distance (mm)", showarrow=False,
                            font=dict(size=23, color="#262626"), xanchor="center", yanchor="middle"))

layout["annotations"] = annotations
fig.update_layout(**layout)
fig.write_html("out.html", config={"displayModeBar": False})
